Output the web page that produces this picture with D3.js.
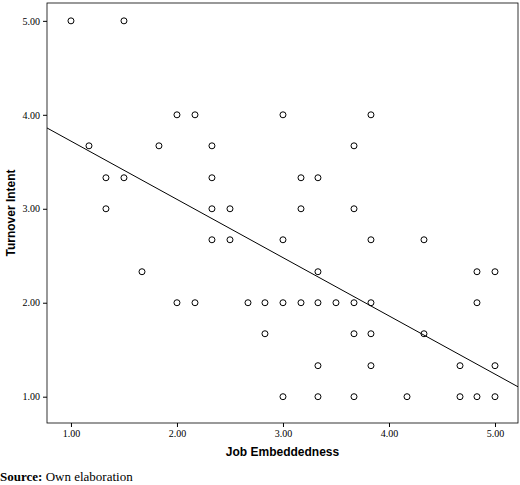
<!DOCTYPE html>
<html><head><meta charset="utf-8">
<script src="https://cdn.jsdelivr.net/npm/d3@7"></script>
<style>body{margin:0;background:#fff}</style></head>
<body><svg id="c" width="520" height="485"></svg>
<script>
const xTicks=[1,2,3,4,5];
const yTicks=[1,2,3,4,5];
const jobEmb=[1,1.5,1.17,1.33,1.5,1.33,1.67,1.83,2,2.17,2,2.17,2.33,2.33,2.33,2.33,2.5,2.5,2.67,2.83,2.83,3,3,3,3,3.17,3.17,3.17,3.33,3.33,3.33,3.33,3.33,3.5,3.67,3.67,3.67,3.67,3.67,3.83,3.83,3.83,3.83,3.83,4.17,4.33,4.33,4.67,4.67,4.83,4.83,4.83,5,5,5];
const turnover=[5,5,3.67,3.33,3.33,3,2.33,3.67,4,4,2,2,3.67,3.33,3,2.67,3,2.67,2,2,1.67,4,2.67,2,1,3.33,3,2,3.33,2.33,2,1.33,1,2,2,3.67,3,1.67,1,4,2.67,2,1.67,1.33,1,2.67,1.67,1.33,1,2.33,2,1,2.33,1.33,1];
const fit={intercept:4.34,slope:-0.62};
const svg=d3.select("#c");
const L=47,R=518,T=3,B=423;
const x=d3.scaleLinear().domain([0.774,5.217]).range([L,R]);
const y=d3.scaleLinear().domain([0.72,5.19]).range([B,T]);
svg.append("rect").attr("x",L).attr("y",T).attr("width",R-L).attr("height",B-T).attr("fill","none").attr("stroke","#000").attr("stroke-width",0.8);
const gx=svg.append("g").attr("transform",`translate(0,${B})`).call(d3.axisBottom(x).tickValues(xTicks).tickFormat(d3.format(".2f")).tickSize(4).tickSizeOuter(0));
const gy=svg.append("g").attr("transform",`translate(${L},0)`).call(d3.axisLeft(y).tickValues(yTicks).tickFormat(d3.format(".2f")).tickSize(4).tickSizeOuter(0));
[gx,gy].forEach(g=>{g.select(".domain").remove();g.selectAll("text").attr("font-family","Liberation Serif").attr("font-size",10).attr("fill","#000");});
const xd=x.domain();
svg.append("line").attr("x1",x(xd[0])).attr("y1",y(fit.intercept+fit.slope*xd[0])).attr("x2",x(xd[1])).attr("y2",y(fit.intercept+fit.slope*xd[1])).attr("stroke","#000").attr("stroke-width",1);
svg.selectAll("circle.p").data(jobEmb).enter().append("circle").attr("cx",d=>x(d)).attr("cy",(d,i)=>y(turnover[i])).attr("r",3).attr("fill","none").attr("stroke","#000").attr("stroke-width",1);
svg.append("text").attr("x",(L+R)/2).attr("y",456).attr("text-anchor","middle").attr("font-family","Liberation Sans").attr("font-weight","bold").attr("font-size",12).text("Job Embeddedness");
svg.append("text").attr("transform",`translate(15,${(T+B)/2}) rotate(-90)`).attr("text-anchor","middle").attr("font-family","Liberation Sans").attr("font-weight","bold").attr("font-size",12).text("Turnover Intent");
const s=svg.append("text").attr("x",0).attr("y",481).attr("font-family","Liberation Serif").attr("font-size",13);
s.append("tspan").attr("font-weight","bold").text("Source:");
s.append("tspan").text(" Own elaboration");
</script></body></html>
